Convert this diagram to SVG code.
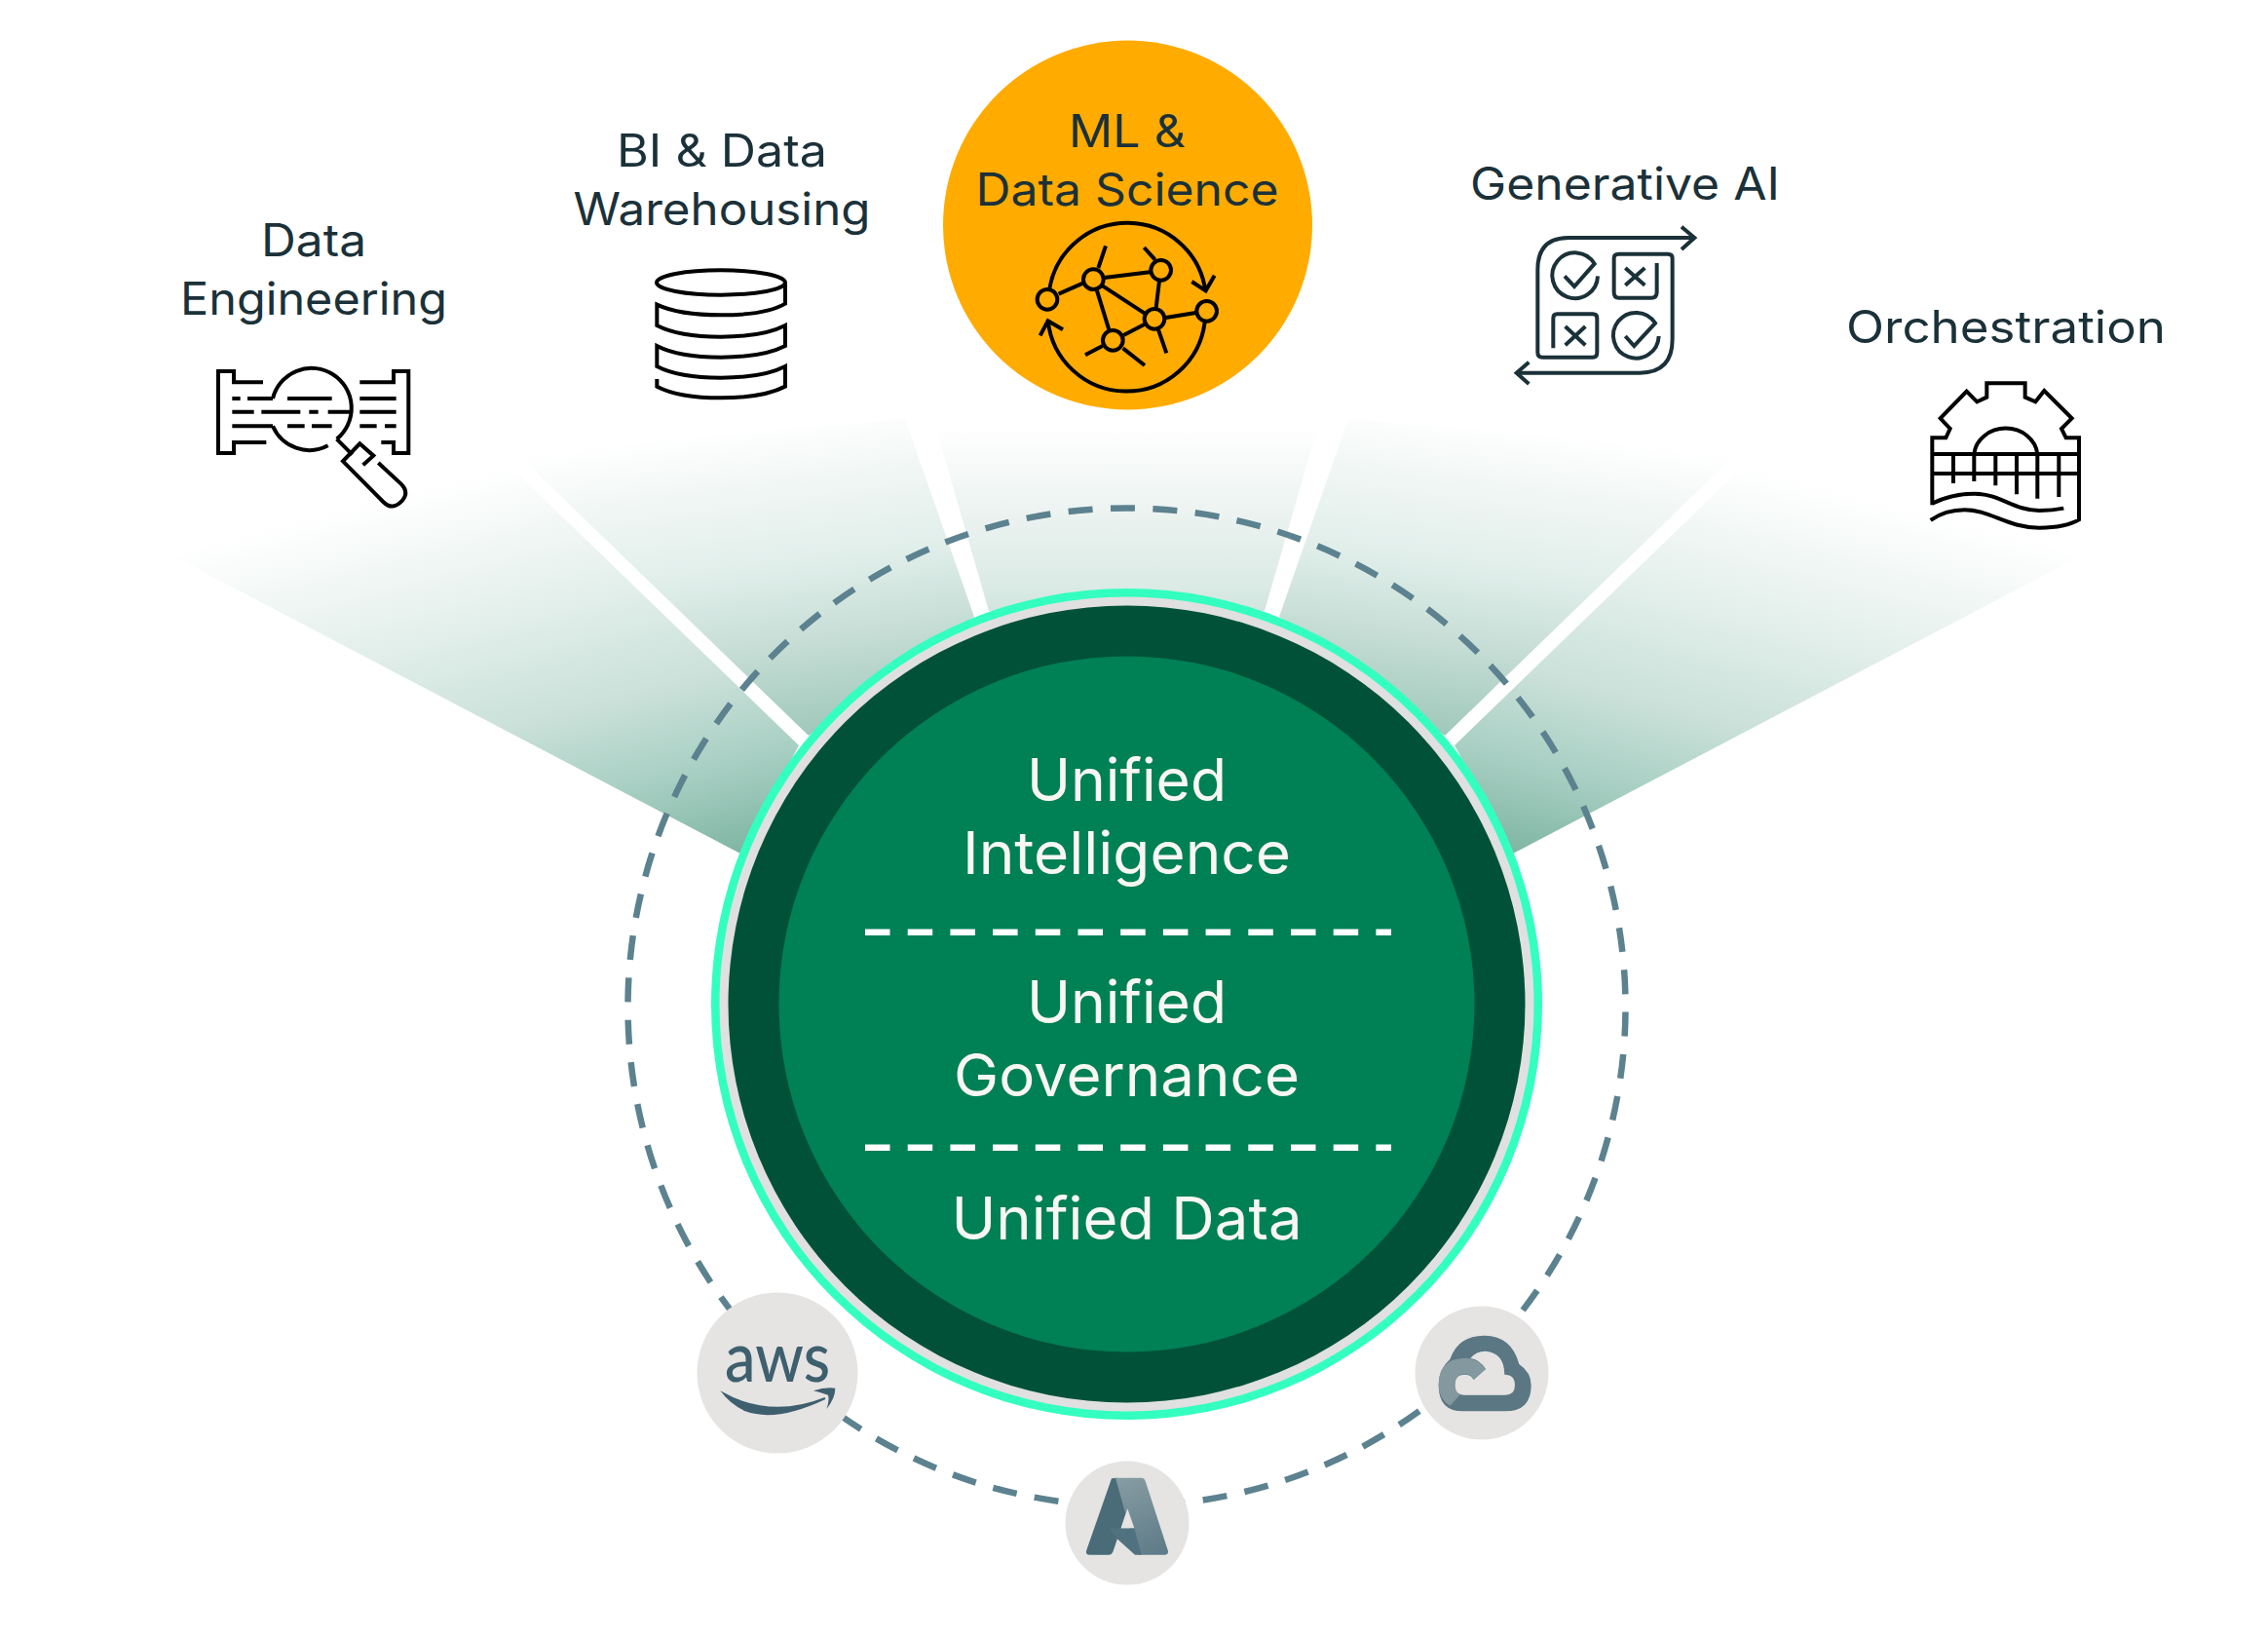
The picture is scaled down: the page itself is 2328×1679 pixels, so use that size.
<svg xmlns="http://www.w3.org/2000/svg" width="2328" height="1679" viewBox="0 0 2328 1679">
<style>
.lbl{font-family:"Inter","Liberation Sans",sans-serif;font-size:46px;font-weight:430;fill:#1b3139;text-anchor:middle}
.ctr{font-family:"Inter","Liberation Sans",sans-serif;font-size:61px;font-weight:430;fill:#f9f7f4;text-anchor:middle}
.ic{fill:none;stroke:#000;stroke-width:12;stroke-linecap:butt;stroke-linejoin:miter}
.nv{stroke:#1b3139}
.badge{fill:#e5e4e3}
.dv{fill:none;stroke:#fff;stroke-width:6.5;stroke-dasharray:25.5 18.2}
</style>
<defs>
<linearGradient id="f1" gradientUnits="userSpaceOnUse" x1="760" y1="876" x2="650" y2="445"><stop offset="0" stop-color="#7fb5a3"/><stop offset=".21" stop-color="#a8cfc3"/><stop offset=".42" stop-color="#cbe1da"/><stop offset=".645" stop-color="#e1eee9"/><stop offset=".85" stop-color="#f3f8f6"/><stop offset="1" stop-color="#fff"/></linearGradient>
<linearGradient id="f2" gradientUnits="userSpaceOnUse" x1="860" y1="760" x2="815" y2="430"><stop offset="0" stop-color="#9cc6b8"/><stop offset=".34" stop-color="#c9dfd8"/><stop offset=".55" stop-color="#e0eeea"/><stop offset=".79" stop-color="#f0f6f4"/><stop offset="1" stop-color="#fff"/></linearGradient>
<linearGradient id="f3" gradientUnits="userSpaceOnUse" x1="1156" y1="660" x2="1156" y2="435"><stop offset="0" stop-color="#c3ddd4"/><stop offset=".27" stop-color="#dcebe6"/><stop offset=".56" stop-color="#eaf2ef"/><stop offset=".86" stop-color="#f9fbfa"/><stop offset="1" stop-color="#fff"/></linearGradient>
<linearGradient id="f4" gradientUnits="userSpaceOnUse" x1="1453" y1="760" x2="1498" y2="430"><stop offset="0" stop-color="#9cc6b8"/><stop offset=".34" stop-color="#c9dfd8"/><stop offset=".55" stop-color="#e0eeea"/><stop offset=".79" stop-color="#f0f6f4"/><stop offset="1" stop-color="#fff"/></linearGradient>
<linearGradient id="f5" gradientUnits="userSpaceOnUse" x1="1553" y1="876" x2="1663" y2="445"><stop offset="0" stop-color="#7fb5a3"/><stop offset=".21" stop-color="#a8cfc3"/><stop offset=".42" stop-color="#cbe1da"/><stop offset=".645" stop-color="#e1eee9"/><stop offset=".85" stop-color="#f3f8f6"/><stop offset="1" stop-color="#fff"/></linearGradient>
<linearGradient id="azr" gradientUnits="userSpaceOnUse" x1="240" y1="110" x2="340" y2="347"><stop offset="0" stop-color="#879ca3"/><stop offset="1" stop-color="#5f7c88"/></linearGradient>
</defs>
<rect width="2328" height="1679" fill="#fff"/>
<g id="fans">
<polygon fill="url(#f1)" points="760,876 180,572 400,478 520,475 820,765"/>
<polygon fill="url(#f2)" points="830,755 530,465 929,430 1000,633"/>
<polygon fill="url(#f3)" points="1015,627 958,430 1355,430 1298,627"/>
<polygon fill="url(#f4)" points="1313,633 1384,430 1783,465 1483,755"/>
<polygon fill="url(#f5)" points="1553,876 2133,572 1913,478 1793,475 1493,765"/>
</g>
<g id="connectors">
<circle cx="1156.5" cy="1033.5" r="512" fill="none" stroke="#5c828f" stroke-width="6.5" stroke-dasharray="25 18.47" stroke-dashoffset="-5.1"/>
</g>
<g id="core">
<circle cx="1156.5" cy="1030.5" r="426.5" fill="#33ffc0"/>
<circle cx="1156.5" cy="1030.5" r="418" fill="#e0e0e0"/>
<circle cx="1156.5" cy="1030.5" r="409" fill="#005138"/>
<circle cx="1156.5" cy="1030.5" r="357" fill="#008055"/>
<text class="ctr" x="1156.5" y="822" textLength="205" lengthAdjust="spacingAndGlyphs">Unified</text>
<text class="ctr" x="1156.5" y="897" textLength="337" lengthAdjust="spacingAndGlyphs">Intelligence</text>
<path class="dv" d="M888 956.7H1428"/>
<text class="ctr" x="1156.5" y="1050" textLength="205" lengthAdjust="spacingAndGlyphs">Unified</text>
<text class="ctr" x="1156.5" y="1125" textLength="355" lengthAdjust="spacingAndGlyphs">Governance</text>
<path class="dv" d="M888 1177.7H1428"/>
<text class="ctr" x="1156.5" y="1272" textLength="360" lengthAdjust="spacingAndGlyphs">Unified Data</text>
</g>
<g id="data-engineering">
<text class="lbl" x="322" y="263" textLength="108" lengthAdjust="spacingAndGlyphs">Data</text>
<text class="lbl" x="322" y="323" textLength="274" lengthAdjust="spacingAndGlyphs">Engineering</text>
<g class="ic" transform="translate(180 200) scale(.3333)">
<path d="M270 577H180V543H132V795H180V762H280M568 577H672V543H718V795H672V762H634"/>
<path d="M175 627H200M222 627H300M345 627H482M568 627H680M175 668H242M265 668H385M412 668H440M470 668H540M568 668H680M175 712H300M345 712H398M420 712H482M568 712H620M645 712H680"/>
<path d="M300 627A123 123 0 1 1 497 752M470 772A123 123 0 0 1 300 712"/>
<path d="M497 752L545 800M578 832L610 803L568 766L516 820L640 945Q670 975 700 940Q720 915 695 890L625 825"/>
</g>
</g>
<g id="bi-data-warehousing">
<text class="lbl" x="741" y="171" textLength="216" lengthAdjust="spacingAndGlyphs">BI &amp; Data</text>
<text class="lbl" x="741" y="231" textLength="305" lengthAdjust="spacingAndGlyphs">Warehousing</text>
<g class="ic" transform="translate(640 240) scale(.3333)">
<ellipse cx="300" cy="150" rx="198" ry="38"/>
<path d="M498 150V215Q440 250 300 250Q170 250 103 218V282Q170 317 300 317Q430 317 498 282V345Q430 380 300 380Q170 380 103 345V408Q170 443 300 443Q430 443 498 408V470Q430 505 300 505Q170 505 103 470V447"/>
</g>
</g>
<g id="ml-data-science">
<circle cx="1157.5" cy="231" r="189.5" fill="#ffab00"/>
<text class="lbl" x="1157" y="151" textLength="120" lengthAdjust="spacingAndGlyphs">ML &amp;</text>
<text class="lbl" x="1157" y="211" textLength="311" lengthAdjust="spacingAndGlyphs">Data Science</text>
<g class="ic" transform="translate(1040 220) scale(.3333)">
<circle cx="105" cy="262" r="31"/><circle cx="247" cy="200" r="31"/><circle cx="455" cy="172" r="31"/><circle cx="435" cy="322" r="31"/><circle cx="596" cy="298" r="31"/><circle cx="307" cy="388" r="31"/>
<path d="M140 245L215 212M280 195L420 178M275 220L405 305M258 235L295 355M450 205L440 288M470 318L562 303M340 372L405 338M262 165L285 97M437 140L403 102M447 355L472 427M338 412L405 465M275 405L222 433"/>
<path d="M112 228A243 243 0 0 1 592 235M550 207L593 235L620 188M590 332A243 243 0 0 1 107 325M83 373L107 328L153 355"/>
</g>
</g>
<g id="generative-ai">
<text class="lbl" x="1668" y="205" textLength="318" lengthAdjust="spacingAndGlyphs">Generative AI</text>
<g class="ic nv" transform="translate(1540 220) scale(.3333)">
<path d="M598 72H210Q115 72 115 170V425Q115 440 130 440H285Q298 440 298 425V320Q298 307 285 307H175Q163 307 163 320V412"/>
<path d="M482 150V240Q482 257 465 257H365Q350 257 350 240V135Q350 122 365 122H515Q530 122 530 135V385Q530 488 430 488H48"/>
<path d="M558 38L598 72L558 108M88 455L50 488L88 522"/>
<path d="M300 190A70 70 0 1 1 290 152L228 222L198 190M488 375A70 70 0 1 1 477 335L412 405L385 375"/>
<path d="M385 165L445 218M445 165L385 218M200 345L262 403M262 345L200 403"/>
</g>
</g>
<g id="orchestration">
<text class="lbl" x="2059" y="352" textLength="328" lengthAdjust="spacingAndGlyphs">Orchestration</text>
<g class="ic" transform="translate(1960 370) scale(.3333)">
<path d="M70 445V238H112L125 210L95 178L176 95L208 127L238 113V70H356V113L388 127L415 93L500 178L468 210L482 238H522V490Q480 515 400 515C300 515 250 460 170 460Q110 460 65 492"/>
<path d="M70 440Q130 410 200 410C280 410 320 462 400 462Q440 462 475 455"/>
<path d="M70 288H522M70 348H522M135 288V378M199 288V372M265 288V385M330 288V412M394 288V425M460 288V420"/>
<path d="M199 288A98 88 0 0 1 394 288"/>
</g>
</g>
<g id="aws">
<circle class="badge" cx="798" cy="1409" r="82.5"/>
<text x="798" y="1418" font-family="Lato,'Open Sans',sans-serif" font-weight="500" font-size="72" fill="#3e5f6e" text-anchor="middle" textLength="108" lengthAdjust="spacingAndGlyphs">aws</text>
<g fill="#3e5f6e" transform="translate(690 1310) scale(.3333)">
<path d="M148 352Q300 440 470 372L472 378Q320 450 225 415Q180 395 148 352Z"/>
<path d="M435 352Q470 340 502 344Q502 375 475 408Q485 380 480 365Q460 358 435 352Z"/>
</g>
</g>
<g id="azure">
<circle class="badge" cx="1157" cy="1563" r="63.5"/>
<g transform="translate(1070 1480) scale(.3333)">
<path fill="#4a6b78" d="M213 112L135 335Q133 347 145 347H205Q213 347 217 338L262 205L230 110Z"/>
<path fill="url(#azr)" d="M225 110H305Q313 110 317 120L387 335Q388 347 378 347H300Q292 347 288 335Z"/>
<path fill="#507280" d="M205 265H283L305 347H285L230 298Z"/>
<path class="badge" d="M262 205L283 265H243Z"/>
</g>
</g>
<g id="gcp">
<circle class="badge" cx="1521" cy="1409" r="68.5"/>
<g transform="translate(1430 1320) scale(.3333)">
<path fill="#5b7783" d="M175 225Q200 152 280 152Q365 152 388 240Q425 265 425 305Q425 385 345 385H215Q140 385 140 305Q140 255 175 225Z"/>
<path class="badge" d="M238 222Q255 200 285 200Q342 205 343 272Q375 272 375 305Q375 335 345 335H218Q190 335 190 305Q190 272 220 272Q240 272 248 288L285 255Q265 225 238 222Z"/>
<path fill="#84989f" d="M215 222Q255 218 285 255L248 288Q240 270 220 270Q190 272 190 305Q190 322 205 335L175 368Q140 345 140 305Q140 225 215 222Z"/>
</g>
</g>
</svg>
